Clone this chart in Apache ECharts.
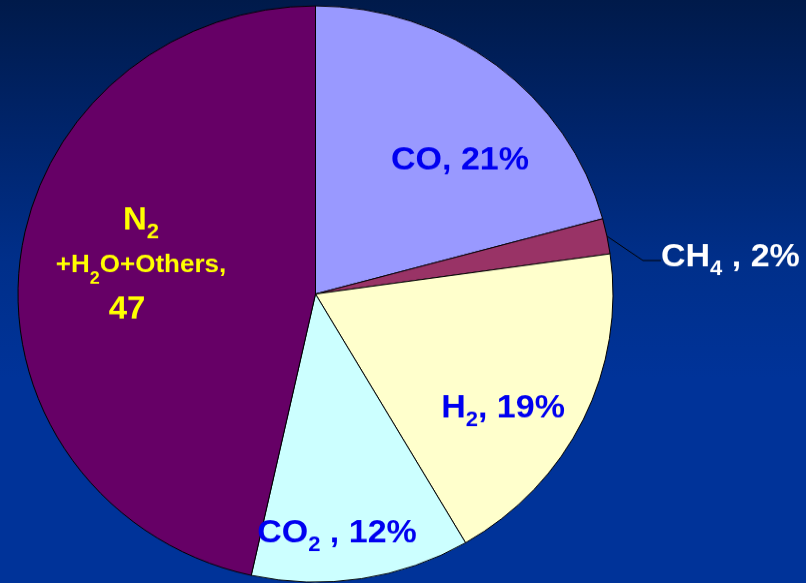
<!DOCTYPE html>
<html>
<head>
<meta charset="utf-8">
<script src="https://cdn.jsdelivr.net/npm/echarts@6/dist/echarts.min.js"></script>
<style>
  html, body { margin: 0; padding: 0; width: 806px; height: 583px; overflow: hidden; }
  body { background: linear-gradient(to bottom, #001a4a 0%, #00246a 22%, #002f8a 45%, #003399 65%, #003399 100%); }
  /* the pie is drawn a little flattened vertically */
  #chart { width: 806px; height: 602px; transform: scaleY(0.9684); transform-origin: 0 0; }
</style>
</head>
<body>
<div id="chart"></div>
<script>
// Composition of the gas (share of each component)
const gases = ['CO', 'CH4', 'H2', 'CO2', 'N2+H2O+Others'];
const shares = [21, 2, 19, 12, 47];
const sliceColors = ['#9999FF', '#993366', '#FFFFCC', '#CCFFFF', '#660066'];

// Label text with subscripts, as rich-text strings
const labelTexts = [
  '{b|CO, 21%}',
  '{w|CH}{ws|4}{w| , 2%}',
  '{b|H}{bs|2}{b|, 19%}',
  '{b|CO}{bs|2}{b| , 12%}',
  '{n|N}{ns|2}\n{m|+H}{ms|2}{m|O+Others,}\n{n|47}{pad2|}'
];

// Label anchor points (in chart-div coordinates)
const labelSpots = [
  { x: 460, y: 166, align: 'center' },
  { x: 661, y: 266, align: 'left' },
  { x: 503, y: 422, align: 'center' },
  { x: 337, y: 551, align: 'center' },
  { x: 141, y: 274, align: 'center' }
];

const chart = echarts.init(document.getElementById('chart'), null, { renderer: 'canvas' });

const font = 'Liberation Sans, Arial, sans-serif';
const rich = {
  b:  { color: '#0000F0', fontSize: 34, fontWeight: 'bold', fontFamily: font, lineHeight: 46 },
  bs: { color: '#0000F0', fontSize: 22, fontWeight: 'bold', fontFamily: font, lineHeight: 25, verticalAlign: 'bottom' },
  w:  { color: '#FFFFFF', fontSize: 34, fontWeight: 'bold', fontFamily: font, lineHeight: 46 },
  ws: { color: '#FFFFFF', fontSize: 22, fontWeight: 'bold', fontFamily: font, lineHeight: 25, verticalAlign: 'bottom' },
  n:  { color: '#FFFF00', fontSize: 33, fontWeight: 'bold', fontFamily: font, lineHeight: 46 },
  ns: { color: '#FFFF00', fontSize: 22, fontWeight: 'bold', fontFamily: font, lineHeight: 26, verticalAlign: 'bottom' },
  m:  { color: '#FFFF00', fontSize: 26, fontWeight: 'bold', fontFamily: font, lineHeight: 46 },
  ms: { color: '#FFFF00', fontSize: 18, fontWeight: 'bold', fontFamily: font, lineHeight: 25, verticalAlign: 'bottom' },
  pad2: { width: 28, lineHeight: 46 }
};

chart.setOption({
  backgroundColor: 'transparent',
  animation: false,
  series: [{
    type: 'pie',
    center: [315.5, 303.6],
    radius: 297.5,
    startAngle: 90,
    clockwise: true,
    avoidLabelOverlap: false,
    data: gases.map((g, i) => ({
      name: g,
      value: shares[i],
      itemStyle: { color: sliceColors[i] },
      label: i === 1
        ? { show: true, position: 'outside', formatter: labelTexts[i], rich }
        : { show: true, position: 'inside', formatter: labelTexts[i], rich },
      labelLine: i === 1
        ? { show: true, length: 18, length2: 18, lineStyle: { color: '#000000', width: 1 } }
        : { show: false }
    })),
    itemStyle: { borderColor: '#000000', borderWidth: 1 },
    emphasis: { disabled: true },
    labelLayout: function (params) {
      const s = labelSpots[params.dataIndex];
      return { x: s.x, y: s.y, align: s.align, verticalAlign: 'middle' };
    }
  }]
});
</script>
</body>
</html>
